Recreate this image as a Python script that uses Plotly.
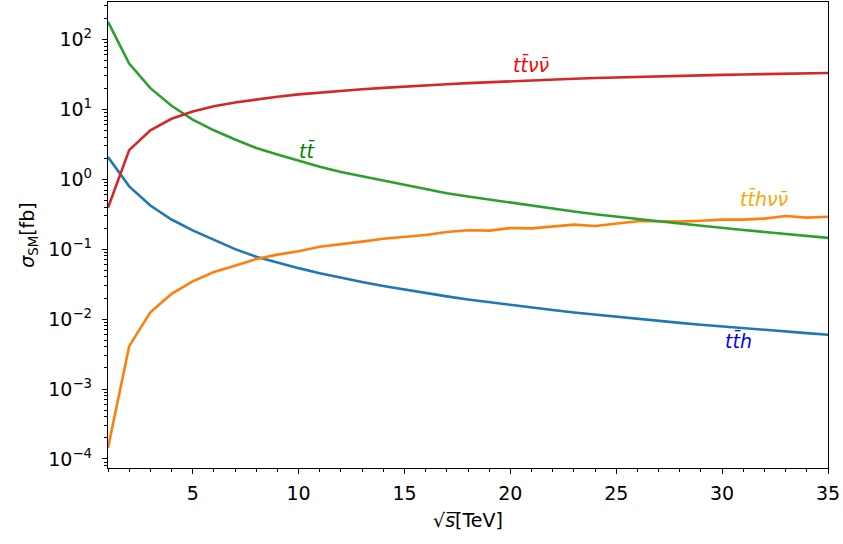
import math
import plotly.graph_objects as go

sqrt_s = list(range(1, 36))

sigma_tt = [178, 45, 20, 11.2, 7.1, 5.0, 3.7, 2.8, 2.25, 1.85, 1.5, 1.27, 1.1, 0.95,
            0.83, 0.72, 0.63, 0.565, 0.51, 0.46, 0.415, 0.375, 0.345, 0.315, 0.29,
            0.268, 0.25, 0.232, 0.215, 0.2, 0.188, 0.176, 0.165, 0.155, 0.145]

sigma_ttvv = [0.39, 2.6, 5.0, 7.3, 9.3, 11.0, 12.5, 13.9, 15.1, 16.3, 17.3, 18.4,
              19.3, 20.2, 21.2, 22.0, 22.8, 23.6, 24.4, 25.3, 26.0, 26.7, 27.3,
              27.9, 28.5, 29.0, 29.5, 30.0, 30.5, 31.0, 31.4, 31.8, 32.2, 32.6, 33.0]

sigma_tth = [2.07, 0.79, 0.42, 0.265, 0.185, 0.137, 0.1, 0.078, 0.064, 0.0535,
             0.0452, 0.0389, 0.0338, 0.0297, 0.0263, 0.0235, 0.0211, 0.0191,
             0.0174, 0.0159, 0.0146, 0.01346, 0.0124, 0.01155, 0.0107, 0.01004,
             0.0094, 0.00883, 0.0083, 0.00782, 0.0074, 0.00698, 0.0067, 0.0063, 0.00597]

sigma_tthvv = [1.44e-4, 0.0041, 0.0125, 0.0229, 0.0346, 0.047, 0.058, 0.0724, 0.0834,
               0.093, 0.108, 0.117, 0.128, 0.141, 0.149, 0.159, 0.176, 0.186, 0.184,
               0.2, 0.198, 0.212, 0.224, 0.214, 0.229, 0.25, 0.25, 0.247, 0.255,
               0.264, 0.264, 0.273, 0.298, 0.282, 0.291]

labels = ["<i>tt̄</i>", "<i>tt̄νν̄</i>", "<i>tt̄hνν̄</i>", "<i>tt̄h</i>"]
label_x = [10.4, 21.0, 32.0, 30.75]
label_y = [2.6, 43, 0.53, 0.00493]
label_colors = ["green", "red", "orange", "blue"]

x_tickvals = [5, 10, 15, 20, 25, 30, 35]
y_tickvals = [1e-4, 1e-3, 1e-2, 1e-1, 1e0, 1e1, 1e2]
y_ticktext = ["10<sup>−4</sup>", "10<sup>−3</sup>", "10<sup>−2</sup>", "10<sup>−1</sup>",
              "10<sup>0</sup>", "10<sup>1</sup>", "10<sup>2</sup>"]

FONT = "DejaVu Sans"
fig = go.Figure()
fig.add_trace(go.Scatter(x=sqrt_s, y=sigma_tth, mode="lines",
                         line=dict(color="#1f77b4", width=2.6), showlegend=False))
fig.add_trace(go.Scatter(x=sqrt_s, y=sigma_tthvv, mode="lines",
                         line=dict(color="#ff7f0e", width=2.6), showlegend=False))
fig.add_trace(go.Scatter(x=sqrt_s, y=sigma_tt, mode="lines",
                         line=dict(color="#2ca02c", width=2.6), showlegend=False))
fig.add_trace(go.Scatter(x=sqrt_s, y=sigma_ttvv, mode="lines",
                         line=dict(color="#d62728", width=2.6), showlegend=False))

for t, x, y, c in zip(labels, label_x, label_y, label_colors):
    fig.add_annotation(x=x, y=math.log10(y), yref="y", xref="x", text=t, showarrow=False,
                       font=dict(family=FONT, size=19, color=c),
                       xanchor="center", yanchor="middle")

fig.update_layout(
    width=843, height=544,
    margin=dict(l=108, r=15, t=2, b=76),
    paper_bgcolor="white", plot_bgcolor="white",
    font=dict(family=FONT, size=19, color="black"),
)
fig.update_xaxes(
    range=[1, 35], tickmode="array", tickvals=x_tickvals,
    showgrid=False, zeroline=False, showline=True, linecolor="black", linewidth=1.3,
    mirror=True, ticks="outside", ticklen=5, tickwidth=1.1, tickcolor="black",
    minor=dict(ticks="outside", ticklen=3, tickwidth=0.9, tickcolor="black", dtick=1, tick0=0),
    ticklabelstandoff=3,
    title=dict(text="√<i>s̅</i>[TeV]", standoff=10, font=dict(size=19)),
)
fig.update_yaxes(
    type="log", range=[-4.129, 2.533], tickmode="array", tickvals=y_tickvals,
    ticktext=y_ticktext,
    showgrid=False, zeroline=False, showline=True, linecolor="black", linewidth=1.3,
    mirror=True, ticks="outside", ticklen=5, tickwidth=1.1, tickcolor="black",
    minor=dict(ticks="outside", ticklen=3, tickwidth=0.9, tickcolor="black", dtick="D1"),
    ticklabelstandoff=6,
    title=dict(text="<i>σ</i><sub>SM</sub>[fb]", standoff=8, font=dict(size=19)),
)

fig.write_html("out.html", config={"displayModeBar": False},
               post_script="document.body.style.margin='0';")
